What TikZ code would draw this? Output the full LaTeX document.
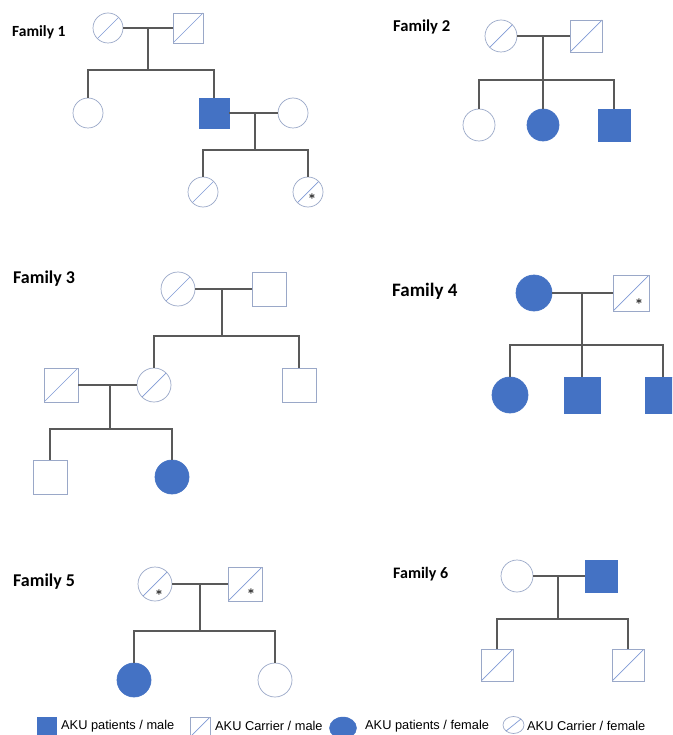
\documentclass[tikz,border=0pt]{standalone}
\usepackage{fontspec}
\newfontfamily\labfont{Carlito}
\newfontfamily\legfont{Liberation Sans}
\usetikzlibrary{shapes.geometric}
\definecolor{aku}{HTML}{4472C4}
\definecolor{outl}{HTML}{9AA8C8}
\definecolor{diag}{HTML}{7F9AD6}
\definecolor{conn}{HTML}{595959}
\tikzset{
 fem/.style={circle, draw=outl, line width=0.7pt, inner sep=0, minimum size=#1pt},
 mal/.style={rectangle, draw=outl, line width=0.7pt, inner sep=0, minimum size=#1pt},
 aff/.style={fill=aku, draw=aku},
 car/.style={path picture={\draw[diag, line width=0.7pt] (path picture bounding box.south west) -- (path picture bounding box.north east);}},
 link/.style={draw=conn, line width=1.5pt},
 famlabel/.style={anchor=west, inner sep=0, font=\labfont\bfseries\fontsize{#1}{#1}\selectfont},
 legtext/.style={anchor=west, inner sep=0, font=\legfont\fontsize{12.8}{14}\selectfont},
 starmark/.style={inner sep=0, font=\boldmath\fontsize{12}{12}\selectfont}
}
\begin{document}
\begin{tikzpicture}[x=1pt,y=-1pt]
\clip (0,0) rectangle (672,735);
\fill[white] (0,0) rectangle (672,735);

% ---------- Family 1 ----------
\node[famlabel=15.5] (l1) at (12,32) {Family 1};
\node[fem=30, car] (f1a) at (108,28) {};
\node[mal=30, car] (f1b) at (188,28) {};
\coordinate (f1m) at (148,28);
\coordinate (f1s) at (148,70);
\node[fem=30] (f1c) at (88,113) {};
\node[mal=30, aff] (f1d) at (214,113) {};
\node[fem=30] (f1e) at (293,113) {};
\coordinate (f1n) at (255,113);
\coordinate (f1t) at (255,150);
\node[fem=30, car] (f1f) at (203,192) {};
\node[fem=30, car] (f1g) at (308,192) {};
\node[starmark] (s1) at (312,197) {$\ast$};
\draw[link] (f1a.east) -- (f1b.west);
\draw[link] (f1m) -- (f1s);
\draw[link] (f1c.north) |- (f1s) -| (f1d.north);
\draw[link] (f1d.east) -- (f1e.west);
\draw[link] (f1n) -- (f1t);
\draw[link] (f1f.north) |- (f1t) -| (f1g.north);

% ---------- Family 2 ----------
\node[famlabel=16.6] (l2) at (393,27) {Family 2};
\node[fem=32, car] (f2a) at (501,36) {};
\node[mal=32, car] (f2b) at (586,36) {};
\coordinate (f2m) at (543,36);
\coordinate (f2s) at (543,80);
\node[fem=32] (f2c) at (479,125) {};
\node[fem=32, aff] (f2d) at (543,125) {};
\node[mal=32, aff] (f2e) at (614,125) {};
\draw[link] (f2a.east) -- (f2b.west);
\draw[link] (f2m) -- (f2d.north);
\draw[link] (f2c.north) |- (f2s) -| (f2e.north);

% ---------- Family 3 ----------
\node[famlabel=18] (l3) at (13,279) {Family 3};
\node[fem=34, car] (f3a) at (178,289) {};
\node[mal=34] (f3b) at (269,289) {};
\coordinate (f3m) at (222,289);
\coordinate (f3s) at (222,336);
\node[fem=34, car] (f3c) at (154,385) {};
\node[mal=34] (f3d) at (299,385) {};
\node[mal=34, car] (f3e) at (61,385) {};
\coordinate (f3n) at (110,385);
\coordinate (f3t) at (110,429);
\node[mal=34] (f3f) at (50,477) {};
\node[fem=34, aff] (f3g) at (172,477) {};
\draw[link] (f3a.east) -- (f3b.west);
\draw[link] (f3m) -- (f3s);
\draw[link] (f3c.north) |- (f3s) -| (f3d.north);
\draw[link] (f3e.east) -- (f3c.west);
\draw[link] (f3n) -- (f3t);
\draw[link] (f3f.north) |- (f3t) -| (f3g.north);

% ---------- Family 4 ----------
\node[famlabel=19] (l4) at (392,291) {Family 4};
\node[fem=36, aff] (f4a) at (534,293) {};
\node[mal=36, car] (f4b) at (631,293) {};
\node[starmark] (s4) at (639,302) {$\ast$};
\coordinate (f4m) at (582,293);
\coordinate (f4s) at (582,345);
\node[fem=36, aff] (f4c) at (510,395) {};
\node[mal=36, aff] (f4d) at (582,395) {};
\node[mal=36, aff] (f4e) at (663,395) {};
\draw[link] (f4a.east) -- (f4b.west);
\draw[link] (f4m) -- (f4d.north);
\draw[link] (f4c.north) |- (f4s) -| (f4e.north);

% ---------- Family 5 ----------
\node[famlabel=18] (l5) at (13,582) {Family 5};
\node[fem=34, car] (f5a) at (155,584) {};
\node[starmark] (s5a) at (159,593) {$\ast$};
\node[mal=34, car] (f5b) at (245,584) {};
\node[starmark] (s5b) at (251,592) {$\ast$};
\coordinate (f5m) at (200,584);
\coordinate (f5s) at (200,631);
\node[fem=34, aff] (f5c) at (134,680) {};
\node[fem=34] (f5d) at (275,680) {};
\draw[link] (f5a.east) -- (f5b.west);
\draw[link] (f5m) -- (f5s);
\draw[link] (f5c.north) |- (f5s) -| (f5d.north);

% ---------- Family 6 ----------
\node[famlabel=16] (l6) at (393,574) {Family 6};
\node[fem=32] (f6a) at (517,576) {};
\node[mal=32, aff] (f6b) at (601,576) {};
\coordinate (f6m) at (558,576);
\coordinate (f6s) at (558,619);
\node[mal=32, car] (f6c) at (497,665) {};
\node[mal=32, car] (f6d) at (628,665) {};
\draw[link] (f6a.east) -- (f6b.west);
\draw[link] (f6m) -- (f6s);
\draw[link] (f6c.north) |- (f6s) -| (f6d.north);

% ---------- Legend ----------
\node[mal=19, aff] (lg1) at (46.5,727) {};
\node[legtext] (lt1) at (61,726) {AKU patients / male};
\node[mal=20, car] (lg2) at (200,727) {};
\node[legtext] (lt2) at (215,726) {AKU Carrier / male};
\node[ellipse, aff, inner sep=0, minimum width=27pt, minimum height=22pt] (lg3) at (343,728) {};
\node[legtext] (lt3) at (365,726) {AKU patients / female};
\node[ellipse, car, draw=outl, line width=0.7pt, inner sep=0, minimum width=21pt, minimum height=17pt] (lg4) at (513.5,725) {};
\node[legtext] (lt4) at (527,726) {AKU Carrier / female};
\end{tikzpicture}
\end{document}
